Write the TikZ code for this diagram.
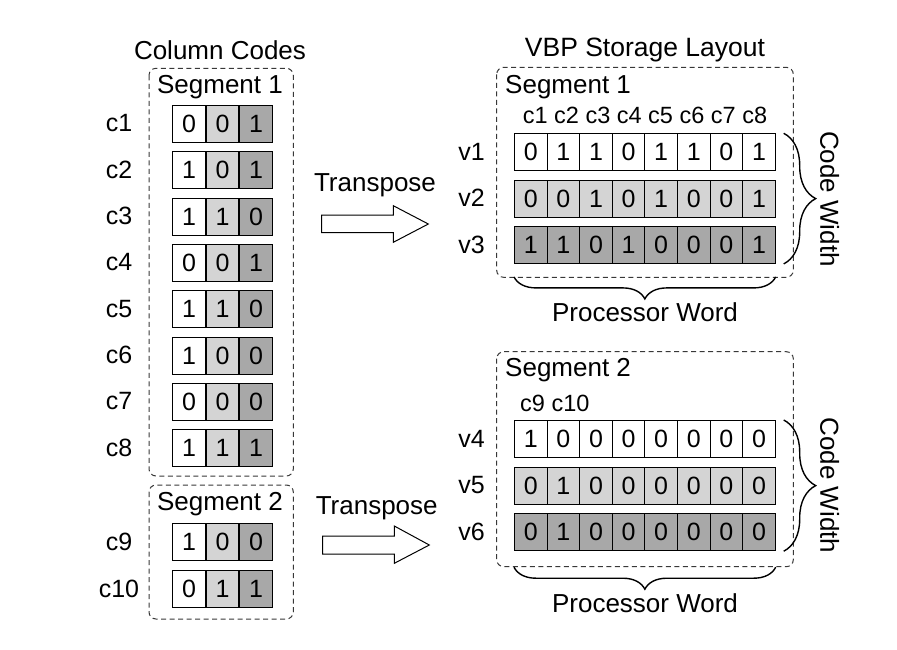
\documentclass[tikz,border=0pt]{standalone}
\usepackage{fontspec}
\setmainfont{Liberation Sans}
\usetikzlibrary{decorations.pathreplacing}
\definecolor{lightcell}{gray}{0.83}
\definecolor{darkcell}{gray}{0.66}
\definecolor{dashcol}{gray}{0.22}
\begin{document}
\begin{tikzpicture}[x=1pt,y=-1pt,
  font=\fontsize{25}{30}\selectfont,
  cellbox/.style={draw=black, line width=0.9pt, minimum width=32.6pt, minimum height=37pt, inner sep=0pt, anchor=north west},
  lbl/.style={inner sep=0pt},
  title/.style={inner sep=0pt, font=\fontsize{26}{30}\selectfont},
  segbox/.style={draw=dashcol, line width=1pt, dash pattern=on 5pt off 3.5pt, rounded corners=7pt},
  bracestyle/.style={draw=black, line width=1.4pt, decorate},
  bigarrow/.style={draw=black, line width=1pt, fill=white, line join=miter}
]
\useasboundingbox (0,0) rectangle (897,649);

% ---------------- left: Column Codes ----------------
\node[title] (t-left) at (220,50) {Column Codes};
\draw[segbox] (149,68.3) rectangle (293.3,476);
\draw[segbox] (149,485) rectangle (293.3,619);
\node[title] (segL1) at (220,86.7) {Segment 1};
\node[title] (segL2) at (220,504) {Segment 2};

\foreach \nm/\y/\a/\b/\c in {c1/105/0/0/1, c2/151.3/1/0/1, c3/197.6/1/1/0, c4/243.9/0/0/1,
  c5/290.2/1/1/0, c6/336.5/1/0/0, c7/382.8/0/0/0, c8/429.1/1/1/1, c9/523.3/1/0/0, c10/570/0/1/1}{
  \node[lbl] (lab-\nm) at (119,{\y+18.5}) {\nm};
  \node[cellbox, fill=white] (\nm-1) at (172.3,\y) {\a};
  \node[cellbox, fill=lightcell] (\nm-2) at (\nm-1.north east) {\b};
  \node[cellbox, fill=darkcell] (\nm-3) at (\nm-2.north east) {\c};
}

% ---------------- transpose arrows ----------------
\node[title] (tr1) at (375,185) {Transpose};
\draw[bigarrow] (321.7,215) -- (393.3,215) -- (393.3,205.7) -- (428.3,224) -- (393.3,242.3) -- (393.3,232.7) -- (321.7,232.7) -- cycle;
\node[title] (tr2) at (376.7,508.3) {Transpose};
\draw[bigarrow] (322.7,536) -- (394.3,536) -- (394.3,526) -- (429.3,545) -- (394.3,563.3) -- (394.3,554) -- (322.7,554) -- cycle;

% ---------------- right: VBP Storage Layout ----------------
\node[title, font=\fontsize{26.5}{30}\selectfont] (t-right) at (645,50) {VBP Storage Layout};
\draw[segbox] (496.7,67.3) rectangle (793.3,277.3);
\draw[segbox] (496.7,351.7) rectangle (793.3,566.7);
\node[title, anchor=west] (segR1) at (505,86.7) {Segment 1};
\node[title, anchor=west] (segR2) at (505,370) {Segment 2};
\node[lbl, font=\fontsize{23.5}{28}\selectfont] (cols1) at (645,115) {c1 c2 c3 c4 c5 c6 c7 c8};
\node[lbl, font=\fontsize{23.5}{28}\selectfont, anchor=west] (cols2) at (520,403.3) {c9 c10};

\foreach \v/\y/\f/\bits in {v1/133.3/white/{0,1,1,0,1,1,0,1}, v2/179.6/lightcell/{0,0,1,0,1,0,0,1},
  v3/226/darkcell/{1,1,0,1,0,0,0,1}, v4/420/white/{1,0,0,0,0,0,0,0},
  v5/466.5/lightcell/{0,1,0,0,0,0,0,0}, v6/513.3/darkcell/{0,1,0,0,0,0,0,0}}{
  \node[lbl] (lab-\v) at (471.5,{\y+18.5}) {\v};
  \foreach \bt [count=\k] in \bits {
    \node[cellbox, fill=\f] (\v-\k) at ({514+(\k-1)*32.6},\y) {\bt};
  }
}

% ---------------- braces ----------------
\draw[bracestyle, decoration={brace, amplitude=32pt}] (v1-8.north east) ++(8,0) coordinate (bA1) -- (bA1 |- v3-8.south) coordinate (bA2);
\node[title, rotate=-90] (cw1) at (829.7,199) {Code Width};
\draw[bracestyle, decoration={brace, amplitude=22pt}] (v3-8.south east) ++(0,13) coordinate (bB1) -- (bB1 -| v3-1.west) coordinate (bB2);
\node[title] (pw1) at (645,311.7) {Processor Word};

\draw[bracestyle, decoration={brace, amplitude=32pt}] (v4-8.north east) ++(8,0) coordinate (bC1) -- (bC1 |- v6-8.south) coordinate (bC2);
\node[title, rotate=-90] (cw2) at (829.7,485.5) {Code Width};
\draw[bracestyle, decoration={brace, amplitude=22pt}] (v6-8.south east) ++(0,16) coordinate (bD1) -- (bD1 -| v6-1.west) coordinate (bD2);
\node[title] (pw2) at (645,603) {Processor Word};
\end{tikzpicture}
\end{document}
